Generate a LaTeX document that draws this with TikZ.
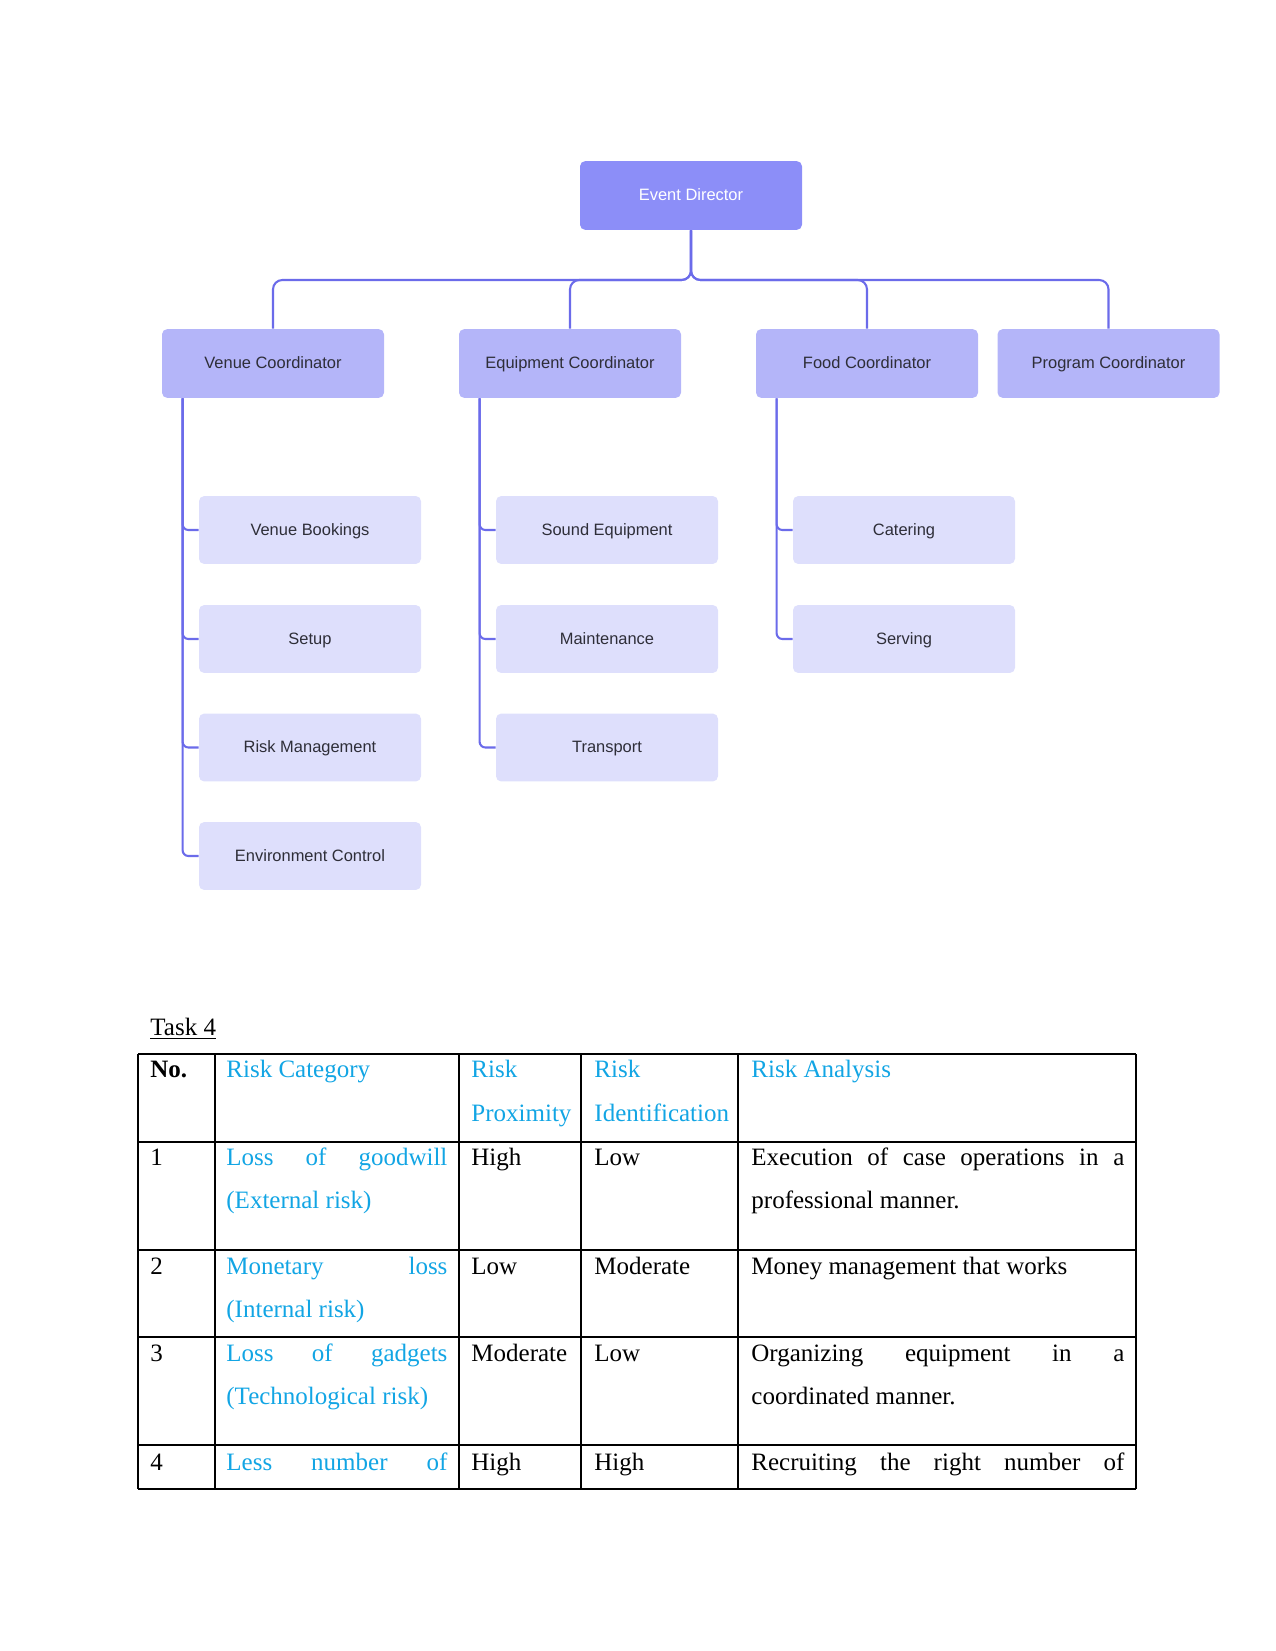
\documentclass[tikz,border=0pt]{standalone}
\usepackage{fontspec}
\setmainfont{Liberation Serif}
\newfontfamily\chartfont{Liberation Sans}
\usetikzlibrary{calc}
\definecolor{edfill}{HTML}{8C8EF8}
\definecolor{cofill}{HTML}{B4B5F9}
\definecolor{chfill}{HTML}{DEDFFC}
\definecolor{linkc}{HTML}{6B6BEA}
\definecolor{boxtext}{HTML}{2E2E38}
\definecolor{hdrc}{HTML}{12A5E4}
\begin{document}
\begin{tikzpicture}[x=0.48pt,y=-0.48pt,
  box/.style={rounded corners=2.5pt, minimum width=106.56pt, minimum height=33pt, inner sep=0pt,
    text height=0.72em, text depth=0.2em,
    font=\chartfont\fontsize{7.9}{9.5}\selectfont, text=boxtext},
  dirbox/.style={box, fill=edfill, text=white},
  coordbox/.style={box, fill=cofill},
  childbox/.style={box, fill=chfill, minimum height=32.6pt},
  link/.style={draw=linkc, line width=1pt, rounded corners=4.5pt},
  sublink/.style={draw=linkc, line width=1pt, rounded corners=2.8pt},
  cell/.style={anchor=base west, inner sep=0pt, font=\fontsize{12}{14}\selectfont},
  hcell/.style={cell, text=hdrc},
  rule/.style={line width=0.5pt}]
\useasboundingbox (0,0) rectangle (1275,1651);

% ---------- org chart ----------
\node[dirbox] (ed) at (691,195.5) {Event Director};
\node[coordbox] (vc) at (273,363.5) {Venue Coordinator};
\node[coordbox] (ec) at (570,363.5) {Equipment Coordinator};
\node[coordbox] (fc) at (867,363.5) {Food Coordinator};
\node[coordbox] (pc) at (1108.5,363.5) {Program Coordinator};

\node[childbox] (vb) at (310,530) {Venue Bookings};
\node[childbox] (su) at (310,639) {Setup};
\node[childbox] (rm) at (310,747.5) {Risk Management};
\node[childbox] (env) at (310,856) {Environment Control};

\node[childbox] (se) at (607,530) {Sound Equipment};
\node[childbox] (mt) at (607,639) {Maintenance};
\node[childbox] (tr) at (607,747.5) {Transport};

\node[childbox] (ca) at (904,530) {Catering};
\node[childbox] (sv) at (904,639) {Serving};

\coordinate (bus) at (0,280);
\foreach \c in {vc,ec,fc,pc}{
  \draw[link] (ed.south) -- (ed.south |- bus) -- (\c.north |- bus) -- (\c.north);
}

\coordinate (vcx) at ($(vc.south west)+(21,0)$);
\coordinate (ecx) at ($(ec.south west)+(21,0)$);
\coordinate (fcx) at ($(fc.south west)+(21,0)$);
\foreach \c in {vb,su,rm,env}{ \draw[sublink] (vcx) |- (\c.west); }
\foreach \c in {se,mt,tr}{ \draw[sublink] (ecx) |- (\c.west); }
\foreach \c in {ca,sv}{ \draw[sublink] (fcx) |- (\c.west); }

% ---------- Task 4 table ----------
\node[cell] (task) at (150,1035) {\underline{Task 4}};

\draw[rule] (138,1054) -- (1136,1054);
\draw[line width=1.2pt] (138,1142) -- (1136,1142);
\draw[rule] (138,1250) -- (1136,1250);
\draw[rule] (138,1337) -- (1136,1337);
\draw[rule] (138,1445) -- (1136,1445);
\draw[rule] (138,1489) -- (1136,1489);
\foreach \x in {138,215,459,581,738,1136}{ \draw[rule] (\x,1054) -- (\x,1489); }

% header
\node[cell] (h1) at (150,1077) {\textbf{No.}};
\node[hcell] (h2) at (226,1077) {Risk Category};
\node[hcell] (h3a) at (471,1077) {Risk};
\node[hcell] (h3b) at (471,1121) {Proximity};
\node[hcell] (h4a) at (594,1077) {Risk};
\node[hcell] (h4b) at (594,1121) {Identification};
\node[hcell] (h5) at (751,1077) {Risk Analysis};

% row 1
\node[cell] (r1a) at (150,1165) {1};
\node[hcell] (r1b) at (226,1165) {\makebox[106.1pt][s]{Loss of goodwill}};
\node[hcell] (r1b2) at (226,1208) {(External risk)};
\node[cell] (r1c) at (471,1165) {High};
\node[cell] (r1d) at (594,1165) {Low};
\node[cell] (r1e) at (751,1165) {\makebox[179pt][s]{Execution of case operations in a}};
\node[cell] (r1e2) at (751,1208) {professional manner.};

% row 2
\node[cell] (r2a) at (150,1274) {2};
\node[hcell] (r2b) at (226,1274) {\makebox[106.1pt][s]{Monetary loss}};
\node[hcell] (r2b2) at (226,1317) {(Internal risk)};
\node[cell] (r2c) at (471,1274) {Low};
\node[cell] (r2d) at (594,1274) {Moderate};
\node[cell] (r2e) at (751,1274) {Money management that works};

% row 3
\node[cell] (r3a) at (150,1361) {3};
\node[hcell] (r3b) at (226,1361) {\makebox[106.1pt][s]{Loss of gadgets}};
\node[hcell] (r3b2) at (226,1404) {(Technological risk)};
\node[cell] (r3c) at (471,1361) {Moderate};
\node[cell] (r3d) at (594,1361) {Low};
\node[cell] (r3e) at (751,1361) {\makebox[179pt][s]{Organizing equipment in a}};
\node[cell] (r3e2) at (751,1404) {coordinated manner.};

% row 4
\node[cell] (r4a) at (150,1470) {4};
\node[hcell] (r4b) at (226,1470) {\makebox[106.1pt][s]{Less number of}};
\node[cell] (r4c) at (471,1470) {High};
\node[cell] (r4d) at (594,1470) {High};
\node[cell] (r4e) at (751,1470) {\makebox[179pt][s]{Recruiting the right number of}};
\end{tikzpicture}
\end{document}
